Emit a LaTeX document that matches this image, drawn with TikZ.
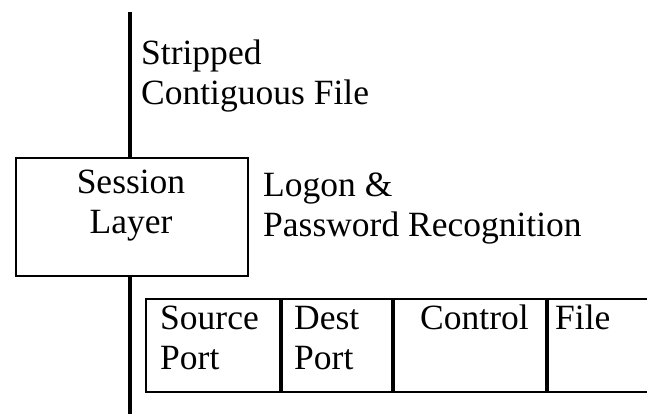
\documentclass[tikz,border=0pt]{standalone}
\usepackage{fontspec}
\setmainfont{Liberation Serif}
\begin{document}
\begin{tikzpicture}[x=1pt,y=-1pt,
  lbl/.style={inner sep=0pt, font=\fontsize{35.5}{40}\selectfont, align=left},
  boxshape/.style={draw, line width=2pt, inner sep=0pt, anchor=north west},
  cell/.style={draw, line width=2pt, inner sep=0pt, anchor=north west, minimum height=93pt},
  spine/.style={line width=4pt},
  divider/.style={line width=4pt}]
\useasboundingbox (0,0) rectangle (647,413);
% session box
\node[boxshape, minimum width=232pt, minimum height=118pt] (session) at (15,157) {};
\node[lbl, align=center, anchor=base] (sesstext) at (131,233) {Session\\Layer};
% spine
\coordinate (top) at (130,12);
\coordinate (bottom) at (130,416);
\draw[spine] (top) -- (session.north -| top);
\draw[spine] (session.south -| top) -- (bottom);
% labels
\node[lbl, anchor=base west] (stripped) at (141,104) {Stripped\\Contiguous File};
\node[lbl, anchor=base west] (logon) at (263,236) {Logon \&\\Password Recognition};
% table
\node[cell, minimum width=134pt] (src) at (145,298) {};
\node[cell, minimum width=110pt, anchor=north west] (dst) at (src.north east) {};
\node[cell, minimum width=152pt, anchor=north west] (ctl) at (dst.north east) {};
\node[cell, minimum width=130pt, anchor=north west] (fil) at (ctl.north east) {};
\draw[divider] (src.north east) -- (src.south east);
\draw[divider] (dst.north east) -- (dst.south east);
\draw[divider] (ctl.north east) -- (ctl.south east);
\node[lbl, anchor=base west] (srct) at (160,369) {Source\\Port};
\node[lbl, anchor=base west] (dstt) at (294,369) {Dest\\Port};
\node[lbl, anchor=base west] (ctlt) at (420,329) {Control};
\node[lbl, anchor=base west] (filt) at (555,329) {File};
\end{tikzpicture}
\end{document}
